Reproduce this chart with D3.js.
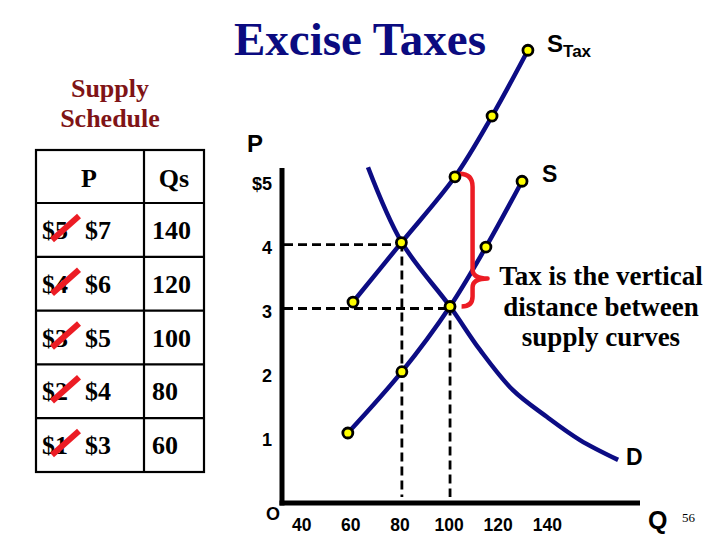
<!DOCTYPE html>
<html>
<head>
<meta charset="utf-8">
<script src="https://cdn.jsdelivr.net/npm/d3@7"></script>
<style>
  html, body { margin: 0; padding: 0; background: #fff; }
  svg { display: block; }
</style>
</head>
<body>
<svg id="chart" width="720" height="540"></svg>
<script>
// ---------- data ----------
const tableOldPrice = ["$5", "$4", "$3", "$2", "$1"];
const tableNewPrice = ["$7", "$6", "$5", "$4", "$3"];
const tableQs = ["140", "120", "100", "80", "60"];

const xTickValues = [40, 60, 80, 100, 120, 140];
const yTickValues = [1, 2, 3, 4, 5];
const yTickLabels = ["1", "2", "3", "4", "$5"];

// points (quantity, price)
const supplyQ = [59, 81, 100.6, 115.2, 129.9];
const supplyP = [1.02, 1.98, 3.0, 3.93, 4.96];
const taxQ = [61.1, 80.8, 102.6, 117.7, 132.3];
const taxP = [3.07, 4.0, 5.03, 5.98, 7.01];
const demandQ = [67.2, 81, 100.6, 112.8, 126.2, 140.1, 153.5, 169];
const demandP = [5.18, 4.0, 3.0, 2.32, 1.69, 1.27, 0.91, 0.60];

const equilibriumQ = [81, 100.6];
const equilibriumP = [4.0, 3.0];

// ---------- setup ----------
const svg = d3.select("#chart");
const navy = "#0c0c84";
const red = "#ec1c24";
const serif = "'Liberation Serif', 'Times New Roman', serif";
const sans = "'Liberation Sans', Arial, sans-serif";

const x = d3.scaleLinear().domain([90, 140]).range([424, 424 + 2.457 * 50]);
const y = d3.scaleLinear().domain([4, 7]).range([242.6, 242.6 - 63.9 * 3]);

const axisX0 = 282, axisY0 = 503;

// ---------- title ----------
svg.append("text").attr("x", 360).attr("y", 55)
  .attr("text-anchor", "middle")
  .attr("font-family", serif).attr("font-weight", "bold")
  .attr("font-size", 47).attr("fill", "#0b0b80")
  .text("Excise Taxes");

// ---------- supply schedule ----------
svg.append("text").attr("x", 110).attr("y", 97)
  .attr("text-anchor", "middle").attr("font-family", serif).attr("font-weight", "bold")
  .attr("font-size", 26).attr("fill", "#7f1416").text("Supply");
svg.append("text").attr("x", 110).attr("y", 127)
  .attr("text-anchor", "middle").attr("font-family", serif).attr("font-weight", "bold")
  .attr("font-size", 26).attr("fill", "#7f1416").text("Schedule");

const tbl = svg.append("g");
const tLeft = 36, tMid = 144, tRight = 204, tTop = 150, headerBottom = 203, rowH = 53.8;
const rowTops = tableQs.map((d, i) => headerBottom + i * rowH);
const tBottom = headerBottom + tableQs.length * rowH;

tbl.append("rect").attr("x", tLeft).attr("y", tTop)
  .attr("width", tRight - tLeft).attr("height", tBottom - tTop)
  .attr("fill", "none").attr("stroke", "#000").attr("stroke-width", 2.2);
tbl.append("line").attr("x1", tMid).attr("x2", tMid).attr("y1", tTop).attr("y2", tBottom)
  .attr("stroke", "#000").attr("stroke-width", 2.2);
tbl.selectAll("line.row").data(rowTops).enter().append("line")
  .attr("x1", tLeft).attr("x2", tRight).attr("y1", d => d).attr("y2", d => d)
  .attr("stroke", "#000").attr("stroke-width", 2.2);

tbl.append("text").attr("x", 89).attr("y", 187).attr("text-anchor", "middle")
  .attr("font-family", serif).attr("font-weight", "bold").attr("font-size", 26).text("P");
tbl.append("text").attr("x", 174).attr("y", 187).attr("text-anchor", "middle")
  .attr("font-family", serif).attr("font-weight", "bold").attr("font-size", 26).text("Qs");

const rows = tbl.selectAll("g.r").data(tableQs.map((q, i) => ({
  q, oldP: tableOldPrice[i], newP: tableNewPrice[i], c: rowTops[i] + rowH / 2
}))).enter().append("g");
rows.append("text").attr("x", 42).attr("y", d => d.c + 9)
  .attr("font-family", serif).attr("font-weight", "bold").attr("font-size", 26).text(d => d.oldP);
rows.append("text").attr("x", 85).attr("y", d => d.c + 9)
  .attr("font-family", serif).attr("font-weight", "bold").attr("font-size", 26).text(d => d.newP);
rows.append("text").attr("x", 152).attr("y", d => d.c + 9)
  .attr("font-family", serif).attr("font-weight", "bold").attr("font-size", 26).text(d => d.q);
rows.append("line").attr("x1", 52).attr("y1", d => d.c + 10).attr("x2", 79).attr("y2", d => d.c - 14)
  .attr("stroke", red).attr("stroke-width", 6);

// ---------- dashed guides ----------
const guides = svg.append("g").attr("stroke", "#000").attr("stroke-width", 2.8)
  .attr("stroke-dasharray", "9,5").attr("fill", "none");
equilibriumQ.forEach((q, i) => {
  const p = equilibriumP[i];
  guides.append("line").attr("x1", axisX0 + 2).attr("x2", x(q))
    .attr("y1", y(p) + 2).attr("y2", y(p) + 2);
  guides.append("line").attr("x1", x(q)).attr("x2", x(q))
    .attr("y1", y(p)).attr("y2", axisY0 - 6);
});

// ---------- axes ----------
svg.append("line").attr("x1", axisX0).attr("x2", axisX0).attr("y1", 168).attr("y2", axisY0 + 2.5)
  .attr("stroke", "#000").attr("stroke-width", 5);
svg.append("line").attr("x1", axisX0 - 2.5).attr("x2", 640).attr("y1", axisY0).attr("y2", axisY0)
  .attr("stroke", "#000").attr("stroke-width", 5);

const gx = svg.append("g").attr("transform", `translate(0,${axisY0})`)
  .call(d3.axisBottom(x).tickValues(xTickValues).tickSize(0).tickPadding(16));
gx.select(".domain").remove();
gx.selectAll("text").attr("font-family", sans).attr("font-weight", "bold")
  .attr("font-size", 17.5).attr("fill", "#000");

const gy = svg.append("g").attr("transform", `translate(${axisX0},0)`)
  .call(d3.axisLeft(y).tickValues(yTickValues).tickSize(0).tickPadding(10)
    .tickFormat((d, i) => yTickLabels[i]));
gy.select(".domain").remove();
gy.selectAll("text").attr("font-family", sans).attr("font-weight", "bold")
  .attr("font-size", 18).attr("fill", "#000").attr("transform", "translate(0,5)");

// ---------- curves ----------
const line = d3.line().x(d => x(d[0])).y(d => y(d[1])).curve(d3.curveCatmullRom.alpha(0.5));
const supply = supplyQ.map((q, i) => [q, supplyP[i]]);
const taxed = taxQ.map((q, i) => [q, taxP[i]]);
const demand = demandQ.map((q, i) => [q, demandP[i]]);

[demand, supply, taxed].forEach(s => {
  svg.append("path").attr("d", line(s)).attr("fill", "none")
    .attr("stroke", navy).attr("stroke-width", 4.5).attr("stroke-linecap", "butt");
});

// ---------- brace ----------
const xb = x(100), yt = y(5), ybt = y(3), ym = yt + 0.78 * (ybt - yt);
const brace = d3.path();
brace.moveTo(xb + 11, yt - 5);
brace.quadraticCurveTo(xb + 24, yt - 5, xb + 24, yt + 8);
brace.lineTo(xb + 24, ym - 9);
brace.quadraticCurveTo(xb + 24, ym, xb + 39, ym);
brace.quadraticCurveTo(xb + 24, ym, xb + 24, ym + 9);
brace.lineTo(xb + 24, ybt - 10);
brace.quadraticCurveTo(xb + 24, ybt, xb + 13, ybt);
svg.append("path").attr("d", brace.toString()).attr("fill", "none")
  .attr("stroke", red).attr("stroke-width", 4.5).attr("stroke-linejoin", "round");

// ---------- points ----------
svg.selectAll("circle.pt").data(supply.concat(taxed)).enter().append("circle")
  .attr("cx", d => x(d[0])).attr("cy", d => y(d[1])).attr("r", 5)
  .attr("fill", "#ffff00").attr("stroke", "#000").attr("stroke-width", 2.8);

// ---------- labels ----------
const lab = (t, lx, ly, size, fam) => svg.append("text").attr("x", lx).attr("y", ly)
  .attr("font-family", fam || sans).attr("font-weight", "bold").attr("font-size", size).text(t);
lab("P", 247, 152, 24);
lab("Q", 648, 529, 25);
lab("O", 266, 520, 18);
lab("D", 626, 465, 23);
lab("S", 542, 182, 23);
const st = svg.append("text").attr("x", 547).attr("y", 52)
  .attr("font-family", sans).attr("font-weight", "bold").attr("font-size", 24);
st.append("tspan").text("S");
st.append("tspan").attr("font-size", 17).attr("dy", 5).text("Tax");
svg.append("text").attr("x", 682).attr("y", 522).attr("font-family", serif)
  .attr("font-size", 13).text("56");

const note = ["Tax is the vertical", "distance between", "supply curves"];
svg.append("g").selectAll("text").data(note).enter().append("text")
  .attr("x", 601).attr("y", (d, i) => 285 + i * 30.5).attr("text-anchor", "middle")
  .attr("font-family", serif).attr("font-weight", "bold").attr("font-size", 27)
  .text(d => d);
</script>
</body>
</html>
